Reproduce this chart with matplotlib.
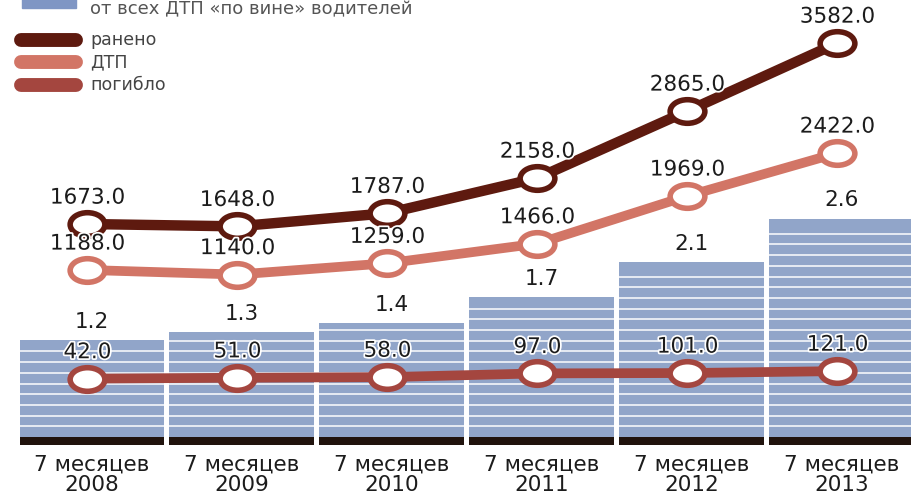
import numpy as np
import matplotlib as mpl
import matplotlib.pyplot as plt
import matplotlib.patheffects as pe
from matplotlib.lines import Line2D
from matplotlib.patches import Rectangle
from matplotlib.path import Path
from matplotlib.transforms import Affine2D

mpl.rc('font', family='DejaVu Sans')

##### DATA #####

periods = ["7 месяцев\n2008", "7 месяцев\n2009", "7 месяцев\n2010",
           "7 месяцев\n2011", "7 месяцев\n2012", "7 месяцев\n2013"]
share = [1.2, 1.3, 1.4, 1.7, 2.1, 2.6]          # bars
injured = [1673.0, 1648.0, 1787.0, 2158.0, 2865.0, 3582.0]   # ранено
accidents = [1188.0, 1140.0, 1259.0, 1466.0, 1969.0, 2422.0]  # ДТП
killed = [42.0, 51.0, 58.0, 97.0, 101.0, 121.0]              # погибло

barLegend = "от всех ДТП «по вине» водителей"
lineNames = ["ранено", "ДТП", "погибло"]

##### STYLE #####

barColor = "#91a5c9"
stripColor = "#21130d"
lineColors = ["#5e1a0f", "#d27566", "#a4463f"]
lineWidths = [7.5, 7.0, 7.0]
textColor = "#1c1c1c"

W, H = 912, 496
fig = plt.figure(figsize=(W / 100, H / 100), dpi=100)
fig.patch.set_facecolor("white")

# bars on ax, lines on twin axis
ax = fig.add_axes([17 / W, 51 / H, 900 / W, 445 / H])
ax.set_xlim(-0.5, 5.5)
ax.set_ylim(0, 445 / 87.1)
ax.axis("off")

x = np.arange(len(share))
barW = 145 / 150
ax.bar(x, share, width=barW, color=barColor, zorder=1)

# white horizontal stripes inside bars
stripStep = 10.7 / 87.1
stripBase = 8 / 87.1
for xi, v in zip(x, share):
    levels = np.arange(stripBase + stripStep, v - 0.06, stripStep)
    ax.hlines(levels, xi - barW / 2, xi + barW / 2, colors="white",
              linewidth=1.2, alpha=0.9, zorder=2)

# dark base strip
ax.bar(x, [stripBase] * len(x), width=barW, color=stripColor, zorder=3)

halo = [pe.withStroke(linewidth=2.5, foreground="white")]

for xi, v in zip(x, share):
    ax.annotate("%.1f" % v, (xi, v), xytext=(0, 13), textcoords="offset points",
                ha="center", va="center", fontsize=15.5, color=textColor,
                zorder=5)

# period labels below
for xi, lab in zip(x, periods):
    ax.annotate(lab, (xi, 0), xytext=(0, -7), textcoords="offset points",
                ha="center", va="top", fontsize=15.5, color=textColor,
                linespacing=1.0, annotation_clip=False)

ax2 = ax.twinx()
ax2.set_xlim(-0.5, 5.5)
zeroPx = 382.6
scale = 0.0948
ax2.set_ylim(-(445 - zeroPx) / scale, zeroPx / scale)
ax2.axis("off")

# elliptical marker (chart is stretched horizontally)
ellipse = Path.unit_circle().transformed(Affine2D().scale(1.0, 0.68))

xl = x - 0.03
for series, col, lw in zip([killed, accidents, injured],
                           lineColors[::-1], lineWidths[::-1]):
    ax2.plot(xl, series, color=col, linewidth=lw, solid_capstyle="round",
             marker=ellipse, markersize=25, markerfacecolor="white",
             markeredgecolor=col, markeredgewidth=4.0, zorder=4)
    for xi, v in zip(xl, series):
        ax2.annotate("%.1f" % v, (xi, v), xytext=(0, 19),
                     textcoords="offset points", ha="center", va="center",
                     fontsize=15.5, color=textColor, path_effects=halo,
                     zorder=6)

# legend drawn in figure pixels
def fx(px):
    return px / W

def fy(py):
    return 1 - py / H

fig.add_artist(Rectangle((fx(22), fy(8)), fx(54), 8 / H + 0.01,
                         color="#7f96c4", transform=fig.transFigure))
fig.text(fx(90), fy(14), barLegend, fontsize=13, color="#555555",
         va="baseline", ha="left")

for i, (name, col) in enumerate(zip(lineNames,
                                    [lineColors[0], lineColors[1], lineColors[2]])):
    yy = [40, 62, 85][i]
    fig.add_artist(Line2D([fx(21), fx(76)], [fy(yy), fy(yy)], color=col,
                          linewidth=10, solid_capstyle="round",
                          transform=fig.transFigure))
    fig.text(fx(90), fy(yy), name, fontsize=12.5, color="#444444",
             va="center", ha="left")

fig.savefig("out.png", dpi=100, facecolor="white")
